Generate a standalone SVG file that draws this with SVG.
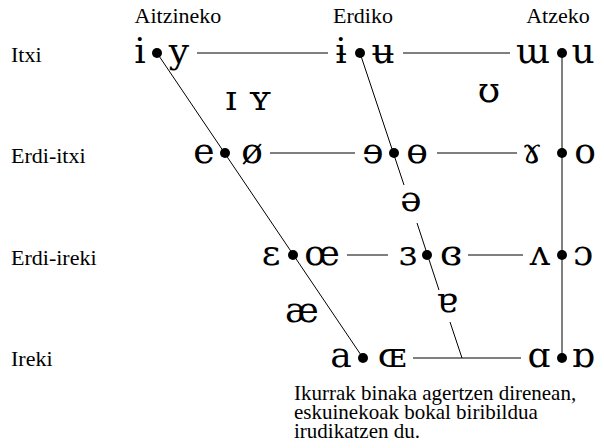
<svg xmlns="http://www.w3.org/2000/svg" width="604" height="448" viewBox="0 0 604 448">
<style>
.lbl{font-family:"Liberation Serif","Times New Roman",serif;font-size:22px;fill:#000}
.note{font-family:"Liberation Serif","Times New Roman",serif;font-size:21px;fill:#000}
.v{font-family:"DejaVu Serif","Liberation Serif",serif;font-size:36px;fill:#000;text-anchor:middle}
.h{text-anchor:middle}
.ln{stroke:#000;stroke-width:1;fill:none}
.dot{fill:#000}
</style>
<rect width="604" height="448" fill="#fff"/>
<g id="headers">
<text class="lbl h" x="178" y="23">Aitzineko</text>
<text class="lbl h" x="363" y="23">Erdiko</text>
<text class="lbl h" x="558" y="23">Atzeko</text>
</g>
<g id="rowlabels">
<text class="lbl" x="11" y="62">Itxi</text>
<text class="lbl" x="11" y="163">Erdi-itxi</text>
<text class="lbl" x="11" y="265">Erdi-ireki</text>
<text class="lbl" x="11" y="366">Ireki</text>
</g>
<g id="connectors">
<line class="ln" x1="157" y1="53" x2="363" y2="358"/>
<line class="ln" x1="360" y1="53" x2="404" y2="185"/>
<line class="ln" x1="417" y1="223" x2="439" y2="290"/>
<line class="ln" x1="450" y1="322" x2="462" y2="358"/>
<line class="ln" x1="562" y1="53" x2="562" y2="358"/>
<line class="ln" x1="197" y1="53" x2="328" y2="53"/>
<line class="ln" x1="403" y1="53" x2="510" y2="53"/>
<line class="ln" x1="270" y1="153" x2="355" y2="153"/>
<line class="ln" x1="437" y1="153" x2="517" y2="153"/>
<line class="ln" x1="347" y1="255" x2="388" y2="255"/>
<line class="ln" x1="468" y1="255" x2="523" y2="255"/>
<line class="ln" x1="413" y1="358" x2="521" y2="358"/>
</g>
<g id="n-close-front">
<circle class="dot" cx="157" cy="53" r="5"/>
<text class="v" x="140" y="63">i</text>
<text class="v" x="179" y="63">y</text>
</g>
<g id="n-close-central">
<circle class="dot" cx="360" cy="53" r="5"/>
<text class="v" x="341" y="63">ɨ</text>
<text class="v" x="383" y="63">ʉ</text>
</g>
<g id="n-close-back">
<circle class="dot" cx="562" cy="53" r="5"/>
<text class="v" x="533" y="63">ɯ</text>
<text class="v" x="583" y="63">u</text>
</g>
<g id="n-near-close">
<text class="v" x="231" y="110">ɪ</text>
<text class="v" x="260" y="110">ʏ</text>
<text class="v" x="489" y="102">ʊ</text>
</g>
<g id="n-closemid-front">
<circle class="dot" cx="225" cy="153" r="5"/>
<text class="v" x="204" y="163">e</text>
<text class="v" x="252" y="163">ø</text>
</g>
<g id="n-closemid-central">
<circle class="dot" cx="394" cy="153" r="5"/>
<text class="v" x="373" y="163">ɘ</text>
<text class="v" x="417" y="163">ɵ</text>
</g>
<g id="n-closemid-back">
<circle class="dot" cx="562" cy="153" r="5"/>
<text class="v" x="532" y="163">ɤ</text>
<text class="v" x="585" y="163">o</text>
</g>
<g id="n-mid">
<text class="v" x="411" y="211">ə</text>
</g>
<g id="n-openmid-front">
<circle class="dot" cx="293" cy="255" r="5"/>
<text class="v" x="271" y="265">ɛ</text>
<text class="v" x="322" y="265">œ</text>
</g>
<g id="n-openmid-central">
<circle class="dot" cx="427" cy="255" r="5"/>
<text class="v" x="408" y="265">ɜ</text>
<text class="v" x="451" y="265">ɞ</text>
</g>
<g id="n-openmid-back">
<circle class="dot" cx="562" cy="255" r="5"/>
<text class="v" x="540" y="265">ʌ</text>
<text class="v" x="583" y="265">ɔ</text>
</g>
<g id="n-near-open">
<text class="v" x="302" y="322">æ</text>
<text class="v" x="447" y="312">ɐ</text>
</g>
<g id="n-open-front">
<circle class="dot" cx="363" cy="358" r="5"/>
<text class="v" x="341" y="367">a</text>
<text class="v" x="392" y="367">ɶ</text>
</g>
<g id="n-open-back">
<circle class="dot" cx="562" cy="358" r="5"/>
<text class="v" x="539" y="367">ɑ</text>
<text class="v" x="583" y="367">ɒ</text>
</g>
<g id="note">
<text class="note" x="294" y="400">Ikurrak binaka agertzen direnean,</text>
<text class="note" x="294" y="419">eskuinekoak bokal biribildua</text>
<text class="note" x="294" y="438">irudikatzen du.</text>
</g>
</svg>
